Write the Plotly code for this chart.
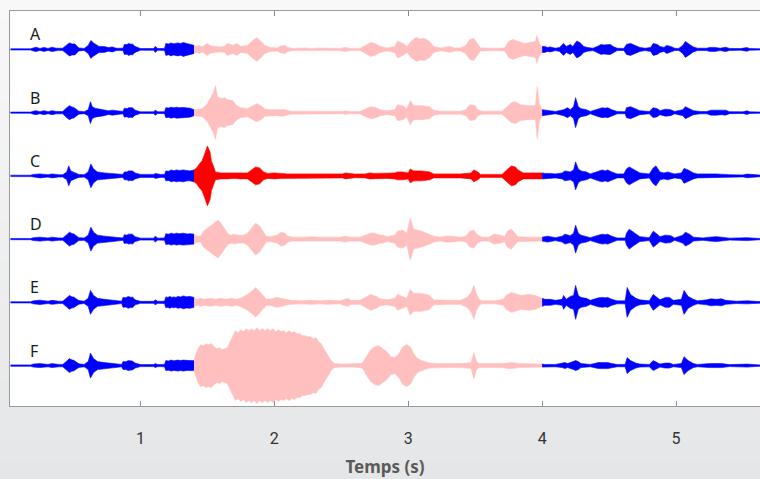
import plotly.graph_objects as go

# envelope samples: (time in s, half amplitude)
row_a = [(0.03, 0.6), (0.18, 0.6), (0.20, 1.5), (0.22, 2.2), (0.25, 1.0), (0.28, 2.0), (0.31, 1.0),
         (0.34, 2.2), (0.37, 1.2), (0.39, 0.9), (0.42, 1.2), (0.45, 4.5), (0.47, 6.5), (0.49, 5.5),
         (0.51, 5.5), (0.54, 1.5), (0.58, 1.0), (0.61, 4), (0.63, 9), (0.65, 6.5), (0.67, 5), (0.69, 3),
         (0.73, 3), (0.76, 1.8), (0.79, 2.5), (0.82, 1.2), (0.87, 1.2), (0.88, 5), (0.90, 4.8),
         (0.91, 6), (0.93, 5.2), (0.94, 5.5), (0.96, 3), (1.00, 0.8), (1.10, 0.8), (1.11, 3),
         (1.13, 0.8), (1.18, 1.0), (1.19, 6), (1.21, 5.4), (1.23, 6.5), (1.245, 5.6), (1.26, 6),
         (1.28, 6.5), (1.30, 5.8), (1.32, 7), (1.345, 6), (1.37, 5.5), (1.39, 4.5), (1.40, 4),
         (1.42, 3), (1.44, 4), (1.46, 2.5), (1.50, 6), (1.52, 4), (1.55, 3), (1.60, 2.5), (1.63, 3),
         (1.65, 6), (1.69, 4), (1.72, 6), (1.75, 3), (1.80, 4), (1.84, 9), (1.87, 12), (1.90, 8),
         (1.93, 4), (1.97, 2), (2.02, 1.5), (2.05, 3.5), (2.08, 4), (2.10, 2), (2.14, 1), (2.23, 1.5),
         (2.27, 1), (2.34, 1.5), (2.42, 1), (2.49, 1), (2.53, 2), (2.57, 1), (2.64, 1), (2.68, 4),
         (2.72, 7), (2.75, 6), (2.79, 3), (2.81, 2.5), (2.84, 1.5), (2.90, 3), (2.92, 8.5), (2.96, 6),
         (2.99, 3), (3.02, 8), (3.06, 12), (3.09, 10.5), (3.12, 11), (3.16, 8), (3.19, 3), (3.24, 1.5),
         (3.28, 2), (3.31, 3), (3.35, 1.5), (3.39, 1.5), (3.43, 4), (3.46, 10), (3.49, 11), (3.52, 5),
         (3.54, 1.5), (3.65, 1.2), (3.72, 1.5), (3.75, 8), (3.78, 10), (3.82, 8), (3.87, 6), (3.91, 7),
         (3.95, 8), (3.96, 14), (3.98, 6), (4.00, 3),
         (4.02, 3), (4.04, 2), (4.06, 2.5), (4.10, 1.2), (4.13, 2), (4.16, 6), (4.18, 3), (4.21, 5),
         (4.23, 3), (4.25, 7), (4.26, 8.5), (4.29, 6), (4.31, 3), (4.34, 1.8), (4.38, 1.2), (4.42, 3.5),
         (4.44, 5), (4.46, 4.5), (4.49, 5), (4.51, 5), (4.53, 3), (4.56, 1.2), (4.61, 1.0), (4.63, 5),
         (4.66, 6), (4.68, 5), (4.70, 4), (4.73, 2), (4.77, 1.2), (4.81, 2), (4.83, 6), (4.86, 5),
         (4.88, 3), (4.91, 2), (4.93, 4), (4.96, 3), (4.99, 1.2), (5.02, 1.0), (5.05, 4), (5.07, 8),
         (5.10, 5), (5.13, 2.5), (5.16, 1.2), (5.23, 1.2), (5.25, 2), (5.29, 2), (5.33, 1.2),
         (5.37, 2.2), (5.40, 1.0), (5.48, 0.8), (5.53, 1.8), (5.55, 0.8), (5.63, 0.6)]

row_b = [(0.03, 0.6), (0.18, 0.6), (0.20, 1.5), (0.22, 2), (0.25, 1.0), (0.28, 2), (0.31, 1.0),
         (0.34, 2), (0.37, 1.2), (0.42, 1.2), (0.45, 5), (0.47, 7), (0.49, 5.5), (0.50, 5.5),
         (0.54, 1.5), (0.58, 1.0), (0.61, 3), (0.627, 11), (0.64, 6), (0.66, 4.5), (0.68, 4), (0.73, 3),
         (0.76, 1.8), (0.79, 2.5), (0.87, 1.2), (0.88, 4.5), (0.90, 4), (0.91, 5), (0.93, 4.5),
         (0.94, 5), (0.96, 2.5), (1.00, 0.8), (1.10, 0.8), (1.11, 2.5), (1.13, 0.8), (1.18, 1.0),
         (1.19, 5), (1.21, 4.6), (1.23, 5.5), (1.25, 4.8), (1.27, 5.5), (1.29, 5), (1.32, 5.2),
         (1.35, 4.6), (1.37, 4.5), (1.40, 3),
         (1.42, 3), (1.46, 4), (1.50, 9), (1.52, 14), (1.545, 20), (1.56, 27), (1.575, 16), (1.60, 14),
         (1.63, 15), (1.65, 13), (1.69, 12), (1.72, 7), (1.75, 5), (1.80, 4), (1.84, 7), (1.87, 9),
         (1.90, 7), (1.93, 3.5), (1.97, 3), (2.02, 3), (2.05, 3.5), (2.08, 3), (2.12, 1.5), (2.27, 1.2),
         (2.42, 1.2), (2.52, 1.2), (2.53, 2), (2.55, 1.2), (2.64, 1.2), (2.68, 4), (2.72, 6), (2.76, 5),
         (2.79, 3), (2.84, 2), (2.90, 3), (2.92, 8), (2.96, 7), (2.99, 4), (3.015, 12), (3.04, 7),
         (3.10, 7), (3.16, 6), (3.19, 2.5), (3.24, 1.5), (3.39, 1.5), (3.43, 3), (3.46, 8), (3.50, 7),
         (3.52, 3), (3.55, 1.5), (3.70, 1.5), (3.74, 6), (3.77, 10), (3.80, 11), (3.84, 8), (3.90, 7),
         (3.95, 7), (3.963, 26), (3.98, 8), (4.00, 3),
         (4.02, 2.5), (4.06, 2), (4.10, 1.2), (4.16, 3), (4.19, 5), (4.21, 3), (4.235, 6), (4.25, 15),
         (4.27, 6), (4.29, 4), (4.33, 3), (4.36, 1.2), (4.42, 4), (4.45, 5), (4.47, 4.5), (4.49, 5),
         (4.52, 3), (4.56, 1.2), (4.62, 1.0), (4.63, 5), (4.66, 6), (4.70, 4), (4.73, 2), (4.80, 1.2),
         (4.83, 5), (4.86, 4), (4.88, 2), (4.92, 3.5), (4.96, 3), (4.99, 1.2), (5.05, 3), (5.07, 6),
         (5.10, 4), (5.13, 2), (5.18, 1.2), (5.23, 1.2), (5.26, 2.5), (5.30, 2.5), (5.34, 2),
         (5.37, 2.5), (5.40, 1.0), (5.50, 0.8), (5.53, 1.8), (5.55, 0.8), (5.63, 0.6)]

row_c = [(0.03, 0.7), (0.18, 0.7), (0.20, 1.5), (0.25, 2), (0.31, 1.2), (0.34, 2), (0.39, 1.2),
         (0.42, 1.2), (0.45, 4), (0.465, 10), (0.48, 5), (0.51, 3), (0.54, 1.5), (0.58, 1.2), (0.61, 4),
         (0.63, 12), (0.65, 7), (0.67, 5), (0.68, 4), (0.73, 3), (0.79, 2.5), (0.87, 1.5), (0.88, 4),
         (0.90, 4), (0.91, 5), (0.93, 4.5), (0.94, 5), (0.96, 3), (1.00, 1.5), (1.10, 1.5), (1.11, 2.5),
         (1.15, 1.5), (1.18, 1.5), (1.19, 5), (1.21, 4.6), (1.23, 6), (1.25, 5.2), (1.27, 6), (1.29, 5.4),
         (1.32, 6), (1.35, 5), (1.37, 5), (1.40, 6),
         (1.42, 8), (1.44, 12), (1.46, 15), (1.48, 22), (1.50, 30), (1.52, 24), (1.53, 15), (1.545, 10),
         (1.56, 4), (1.60, 3), (1.65, 3), (1.70, 2.5), (1.75, 3), (1.80, 3), (1.84, 7), (1.86, 9),
         (1.89, 8), (1.92, 4), (1.95, 2.5), (2.00, 3), (2.05, 2.5), (2.10, 2), (2.20, 2), (2.30, 1.8),
         (2.40, 2), (2.51, 2), (2.53, 3), (2.56, 2.5), (2.60, 1.8), (2.68, 2), (2.71, 3), (2.75, 2.5),
         (2.79, 2.5), (2.84, 2.5), (2.90, 3), (2.92, 4), (2.96, 4), (3.00, 3), (3.015, 7), (3.04, 5),
         (3.10, 5), (3.16, 4), (3.19, 2), (3.30, 2), (3.39, 2), (3.47, 3), (3.49, 6), (3.52, 4),
         (3.54, 1.5), (3.70, 1.5), (3.74, 6), (3.77, 10), (3.80, 9), (3.82, 6), (3.86, 3), (3.95, 3),
         (4.00, 3),
         (4.02, 2.5), (4.06, 2.5), (4.10, 2), (4.15, 3), (4.17, 5), (4.21, 4), (4.235, 6), (4.25, 14),
         (4.27, 7), (4.29, 5), (4.33, 4), (4.36, 2), (4.42, 5), (4.45, 6), (4.47, 5), (4.49, 6),
         (4.52, 4), (4.56, 2), (4.61, 2), (4.63, 7), (4.65, 9), (4.69, 6), (4.73, 3), (4.80, 2),
         (4.83, 8), (4.85, 10), (4.88, 4), (4.91, 3), (4.94, 4), (4.96, 3), (4.99, 2), (5.04, 3),
         (5.06, 7.5), (5.09, 6), (5.13, 3), (5.16, 2), (5.25, 2), (5.30, 2), (5.40, 1.2), (5.50, 1.0),
         (5.53, 1.8), (5.63, 0.8)]

row_d = [(0.03, 0.6), (0.18, 0.6), (0.20, 1.5), (0.25, 2), (0.31, 1.2), (0.34, 2), (0.39, 1.2),
         (0.42, 1.2), (0.45, 4.5), (0.47, 7), (0.49, 5.5), (0.50, 5.5), (0.54, 1.5), (0.58, 1.2),
         (0.61, 4), (0.63, 12), (0.65, 7), (0.67, 5), (0.68, 4), (0.73, 3), (0.79, 2.5), (0.87, 1.2),
         (0.88, 4.5), (0.90, 4), (0.91, 5), (0.93, 4.5), (0.94, 5), (0.96, 2.5), (1.00, 1.0),
         (1.10, 1.0), (1.11, 3), (1.13, 1.0), (1.18, 1.2), (1.19, 5.5), (1.21, 5), (1.23, 6),
         (1.25, 5.2), (1.27, 6), (1.29, 5.4), (1.32, 6), (1.35, 5.2), (1.37, 5.5), (1.40, 5),
         (1.42, 3), (1.45, 3), (1.47, 8), (1.50, 11), (1.53, 14), (1.56, 17), (1.58, 19), (1.60, 16),
         (1.62, 12), (1.65, 6), (1.67, 4), (1.70, 5), (1.73, 4), (1.77, 4), (1.80, 6), (1.83, 11),
         (1.86, 16), (1.89, 13), (1.92, 7), (1.94, 3), (1.97, 2.5), (2.02, 4), (2.05, 7), (2.08, 6),
         (2.10, 3), (2.14, 2), (2.23, 2), (2.27, 2.5), (2.34, 2), (2.42, 2), (2.49, 2), (2.53, 3),
         (2.56, 2), (2.64, 2), (2.68, 4), (2.72, 6), (2.75, 6), (2.79, 4), (2.81, 4), (2.84, 2.5),
         (2.90, 4), (2.92, 8), (2.96, 9), (2.99, 6), (3.015, 21), (3.04, 10), (3.10, 8), (3.16, 5),
         (3.19, 3), (3.24, 2), (3.28, 3), (3.33, 3), (3.39, 2), (3.43, 3), (3.46, 8), (3.49, 9),
         (3.52, 4), (3.55, 2), (3.60, 2), (3.64, 5), (3.69, 4), (3.72, 2.5), (3.74, 8), (3.77, 10),
         (3.80, 5), (3.82, 2.5), (3.90, 2), (4.00, 2),
         (4.02, 2.5), (4.04, 3), (4.06, 2.5), (4.10, 1.5), (4.15, 3), (4.17, 5), (4.21, 3.5),
         (4.235, 6), (4.25, 14), (4.27, 6), (4.29, 4), (4.33, 3), (4.36, 1.5), (4.42, 4), (4.45, 5),
         (4.47, 4.5), (4.49, 5), (4.52, 3), (4.56, 1.2), (4.62, 1.2), (4.63, 6), (4.65, 10), (4.69, 6),
         (4.73, 2.5), (4.80, 1.5), (4.83, 8), (4.85, 6), (4.88, 2.5), (4.92, 4), (4.96, 3.5),
         (4.99, 1.2), (5.05, 4), (5.07, 7), (5.10, 5), (5.13, 2), (5.20, 1.2), (5.25, 2), (5.30, 2.5),
         (5.34, 2), (5.40, 1.0), (5.53, 1.5), (5.63, 0.6)]

row_e = [(0.03, 0.6), (0.18, 0.6), (0.20, 1.5), (0.25, 2.2), (0.31, 1.2), (0.34, 2), (0.39, 1.2),
         (0.42, 1.2), (0.45, 4.5), (0.47, 7), (0.49, 5.5), (0.50, 5.5), (0.54, 1.8), (0.58, 1.2),
         (0.61, 4), (0.627, 12), (0.65, 7), (0.67, 5), (0.68, 4), (0.73, 3), (0.79, 2.5), (0.86, 1.2),
         (0.87, 5), (0.89, 4.6), (0.91, 6), (0.93, 5), (0.94, 5.5), (0.96, 2.5), (1.00, 1.0),
         (1.10, 1.0), (1.11, 2.5), (1.13, 1.0), (1.18, 1.2), (1.19, 5.5), (1.205, 5), (1.22, 6),
         (1.235, 5), (1.25, 5.5), (1.265, 5), (1.28, 6), (1.30, 5.4), (1.32, 6.5), (1.345, 5.6),
         (1.37, 6), (1.40, 5),
         (1.42, 3), (1.45, 4), (1.48, 3), (1.52, 4), (1.56, 3), (1.60, 4), (1.64, 3), (1.68, 4),
         (1.72, 3), (1.76, 5), (1.80, 8), (1.84, 12), (1.86, 15), (1.89, 11), (1.92, 6), (1.94, 3),
         (1.98, 3.5), (2.02, 5), (2.05, 4), (2.08, 3), (2.12, 2), (2.20, 1.5), (2.27, 2), (2.34, 1.5),
         (2.40, 2), (2.49, 1.5), (2.52, 3), (2.55, 4), (2.57, 2), (2.64, 2), (2.68, 5), (2.72, 8),
         (2.76, 6), (2.79, 3.5), (2.84, 2.5), (2.90, 4), (2.92, 8), (2.96, 6), (2.99, 4), (3.015, 13),
         (3.04, 9), (3.10, 9), (3.16, 7), (3.19, 2.5), (3.24, 2), (3.30, 2), (3.39, 2), (3.44, 5),
         (3.47, 10), (3.49, 17), (3.51, 8), (3.53, 3), (3.55, 1.5), (3.65, 1.5), (3.71, 3), (3.73, 7),
         (3.77, 10), (3.80, 9), (3.84, 7), (3.90, 8), (3.95, 7), (3.98, 5), (4.00, 4),
         (4.02, 3), (4.06, 3), (4.10, 2), (4.15, 3), (4.16, 7), (4.18, 3), (4.21, 6), (4.235, 7),
         (4.25, 17), (4.27, 7), (4.29, 5), (4.33, 4), (4.36, 2), (4.42, 4.5), (4.45, 5), (4.47, 4.5),
         (4.49, 5), (4.52, 3), (4.56, 1.5), (4.62, 1.5), (4.635, 15), (4.66, 8), (4.70, 4), (4.73, 2.5),
         (4.80, 1.5), (4.83, 8), (4.86, 5), (4.88, 2.5), (4.92, 5), (4.95, 5), (4.98, 2), (5.04, 3),
         (5.06, 12), (5.09, 6), (5.13, 3), (5.16, 1.5), (5.23, 2.5), (5.26, 3.5), (5.30, 3), (5.34, 3.5),
         (5.37, 2), (5.45, 1.2), (5.53, 1.5), (5.63, 0.8)]

row_f = [(0.03, 0.7), (0.18, 0.7), (0.20, 1.5), (0.25, 2), (0.31, 1.2), (0.34, 2), (0.39, 1.2),
         (0.42, 1.2), (0.45, 4.5), (0.47, 7), (0.49, 5.5), (0.50, 5.5), (0.54, 1.8), (0.58, 1.2),
         (0.61, 4), (0.627, 12.5), (0.65, 7), (0.67, 5), (0.68, 4), (0.73, 3), (0.79, 2.5), (0.86, 1.2),
         (0.87, 4), (0.89, 3.8), (0.91, 5), (0.93, 4.4), (0.94, 4.5), (0.96, 2.5), (1.00, 1.0),
         (1.10, 1.0), (1.11, 2), (1.13, 1.0), (1.18, 1.2), (1.19, 5), (1.21, 4.6), (1.23, 5.5),
         (1.25, 4.8), (1.28, 5.5), (1.30, 5), (1.32, 5.5), (1.35, 4.8), (1.37, 5), (1.40, 5),
         (1.41, 10), (1.43, 17), (1.45, 21), (1.47, 20), (1.49, 22), (1.51, 21), (1.53, 22), (1.55, 19),
         (1.57, 17), (1.59, 18), (1.61, 16), (1.63, 17), (1.65, 18), (1.67, 24), (1.69, 30), (1.71, 35),
         (1.73, 33), (1.75, 36), (1.77, 34), (1.79, 37), (1.81, 35), (1.83, 37), (1.85, 35), (1.87, 38),
         (1.89, 35), (1.91, 37), (1.93, 35), (1.95, 37), (1.97, 35), (1.99, 37), (2.01, 34), (2.03, 36),
         (2.05, 34), (2.07, 35), (2.09, 33), (2.11, 35), (2.13, 33), (2.15, 34), (2.17, 32), (2.19, 32),
         (2.21, 30), (2.23, 30), (2.25, 29), (2.27, 29), (2.29, 27), (2.31, 28), (2.33, 24), (2.35, 22),
         (2.37, 17), (2.39, 12), (2.41, 8), (2.43, 4), (2.45, 2), (2.50, 1.5), (2.60, 1.5), (2.64, 2),
         (2.66, 3), (2.69, 10), (2.72, 16), (2.75, 19), (2.78, 20), (2.81, 17), (2.84, 14), (2.87, 9),
         (2.90, 8), (2.93, 12), (2.96, 19), (2.99, 21), (3.02, 18), (3.04, 12), (3.07, 7), (3.10, 5),
         (3.13, 3.5), (3.16, 2.5), (3.20, 2), (3.30, 2), (3.40, 2), (3.47, 3), (3.49, 13), (3.51, 4),
         (3.53, 2), (3.70, 2), (3.75, 3), (3.78, 3), (3.82, 2), (3.90, 1.5), (4.00, 1.5),
         (4.02, 1.2), (4.10, 1.2), (4.15, 2), (4.17, 3), (4.19, 2), (4.21, 3), (4.235, 4), (4.25, 5),
         (4.27, 4), (4.29, 2), (4.36, 1.2), (4.42, 3), (4.45, 3), (4.49, 3), (4.52, 2), (4.56, 1.2),
         (4.62, 1.2), (4.635, 8), (4.66, 5), (4.70, 2.5), (4.73, 1.5), (4.80, 1.2), (4.83, 5),
         (4.86, 3), (4.88, 1.5), (4.92, 2.5), (4.95, 2.5), (4.98, 1.2), (5.04, 2), (5.06, 9), (5.09, 5),
         (5.13, 2), (5.16, 1.2), (5.25, 2), (5.30, 2), (5.34, 2), (5.40, 1.0), (5.53, 1.5), (5.63, 0.6)]

labels = ["A", "B", "C", "D", "E", "F"]
rows = [row_a, row_b, row_c, row_d, row_e, row_f]
mid_colors = ["#ffbfbf", "#ffbfbf", "#ff0000", "#ffbfbf", "#ffbfbf", "#ffbfbf"]
cut_start, cut_end = 1.40, 4.00
x_ticks = [1, 2, 3, 4, 5]

ROW_STEP = 63.4
BLUE = "#0000ff"

fig = go.Figure()


def add_band(samples, offset, color):
    t = [s[0] for s in samples]
    a = [s[1] for s in samples]
    xs = t + t[::-1]
    ys = [offset + v for v in a] + [offset - v for v in a[::-1]]
    fig.add_trace(go.Scatter(x=xs, y=ys, mode="lines", fill="toself", fillcolor=color,
                             line=dict(color=color, width=0.6), hoverinfo="skip",
                             showlegend=False))


for i, (lab, samples) in enumerate(zip(labels, rows)):
    offset = (len(rows) - 1 - i) * ROW_STEP
    left = [s for s in samples if s[0] <= cut_start]
    mid = [s for s in samples if cut_start <= s[0] <= cut_end]
    right = [s for s in samples if s[0] >= cut_end]
    add_band(left, offset, BLUE)
    add_band(mid, offset, mid_colors[i])
    add_band(right, offset, BLUE)
    fig.add_annotation(x=0.16, y=offset + 15, text=lab, showarrow=False, xanchor="left",
                       yanchor="middle", font=dict(family="Noto Sans", size=16, color="#1a1a1a"))

# soft grey gradient behind the figure
n_bands = 24
y_lo, y_hi = -0.19, 1.03
shapes = []
for k in range(n_bands):
    f = k / (n_bands - 1)
    c0, c1 = (248, 248, 248), (229, 230, 232)
    col = "rgb(%d,%d,%d)" % tuple(round(c1[j] + (c0[j] - c1[j]) * f) for j in range(3))
    y0 = y_lo + (y_hi - y_lo) * k / n_bands
    y1 = y_lo + (y_hi - y_lo) * (k + 1) / n_bands + 0.002
    shapes.append(dict(type="rect", xref="paper", yref="paper", x0=-0.05, x1=1.05, y0=y0, y1=y1,
                       fillcolor=col, line=dict(width=0), layer="below"))
shapes.append(dict(type="rect", xref="x domain", yref="y domain", x0=0, x1=1, y0=0, y1=1,
                   fillcolor="white", line=dict(width=0), layer="below"))

fig.update_layout(
    width=760, height=479,
    margin=dict(l=9.5, r=0, t=10.5, b=73),
    paper_bgcolor="#eeeeef", plot_bgcolor="white",
    shapes=shapes,
    xaxis=dict(range=[0.026, 5.627], tickvals=x_ticks, ticks="inside", ticklen=5,
               tickcolor="#8c8c8c", showline=True, linecolor="#9a9a9a", linewidth=1,
               mirror="ticks", showgrid=False, zeroline=False,
               tickfont=dict(family="Roboto", size=16, color="#333333"),
               ticklabelstandoff=18,
               title=dict(text="Temps (s)", standoff=13,
                          font=dict(family="Noto Sans", size=17, color="#5a5a5a", weight="bold"))),
    yaxis=dict(range=[-40.5, 5 * ROW_STEP + 38.5], showticklabels=False, ticks="",
               showgrid=False, zeroline=False, showline=True, linecolor="#9a9a9a", linewidth=1),
)

# the page is photographed from its top-left corner: drop the browser's default body margin
fig.write_html("out.html", config={"displayModeBar": False},
               post_script="document.body.style.margin='0';")
